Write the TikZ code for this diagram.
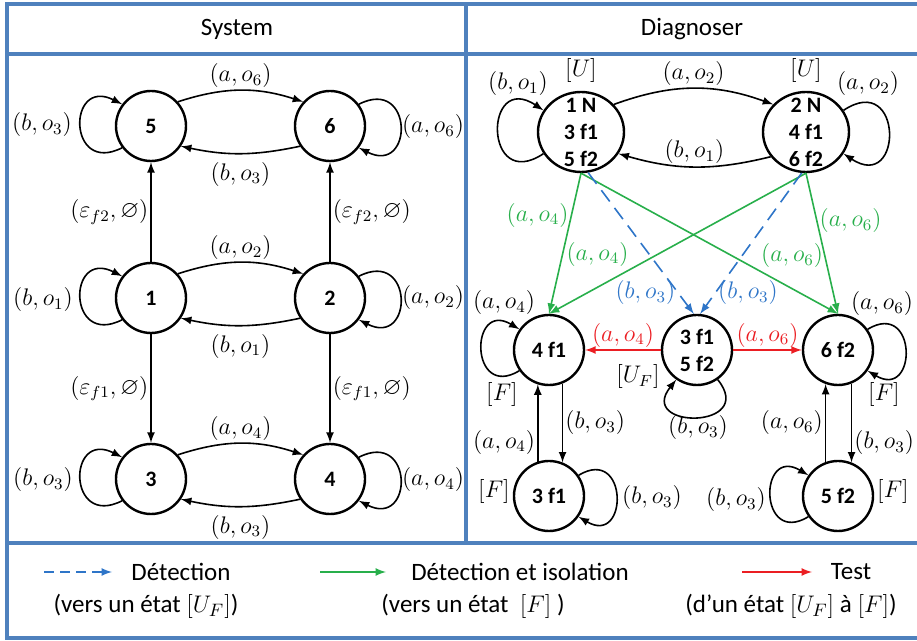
\documentclass[tikz,border=0pt]{standalone}
\usepackage{amsmath}
\usepackage{amssymb}
\usepackage[no-math]{fontspec}
\setmainfont{Carlito}
\usepackage{tikz}
\usetikzlibrary{shapes.geometric}
\usetikzlibrary{positioning}
\usetikzlibrary{arrows,calc}

\definecolor{framebl}{RGB}{79,129,189}
\definecolor{isolgreen}{RGB}{40,175,75}
\definecolor{detblue}{RGB}{46,117,200}
\definecolor{testred}{RGB}{235,30,35}

\begin{document}
\begin{tikzpicture}[x=0.5pt,y=-0.5pt,
    frame/.style={draw=framebl,line width=1.6pt},
    title/.style={font=\fontsize{12.5}{14}\selectfont},
    basic/.style={draw,circle,line width=1.2pt,minimum size=35pt,inner sep=0pt,
        align=center,font=\fontsize{11}{13.5}\selectfont\bfseries},
    big/.style={basic,ellipse,minimum width=43pt,minimum height=40pt,inner sep=-6pt},
    lbl/.style={font=\fontsize{12}{14}\selectfont,inner sep=1pt},
    trans/.style={line width=0.8pt,-latex},
    isol/.style={trans,draw=isolgreen},
    detect/.style={trans,draw=detblue,dash pattern=on 7pt off 4pt},
    testarr/.style={trans,draw=testred},
]
    \useasboundingbox (0,0) rectangle (917,641);
    % frame
    \draw[frame] (7,4) rectangle (930,638);
    \draw[frame] (7,54) -- (930,54);
    \draw[frame] (7,543) -- (930,543);
    \draw[frame] (466,4) -- (466,543);
    \node[title] (hsys) at (237,29) {System};
    \node[title] (hdiag) at (692,29) {Diagnoser};

    % System
    \node[basic] (s5) at (151,126) {5};
    \node[basic] (s6) at (330,126) {6};
    \node[basic] (s1) at (151,298) {1};
    \node[basic] (s2) at (330,298) {2};
    \node[basic] (s3) at (151,479) {3};
    \node[basic] (s4) at (330,479) {4};

    \draw[trans] (s5.42) to[bend left=18] node[lbl,above]{$(a,o_6)$} (s6.138);
    \draw[trans] (s6.214) to[bend left=12] node[lbl,below=3pt]{$(b,o_3)$} (s5.-34);
    \draw[trans] (s1.42) to[bend left=18] node[lbl,above]{$(a,o_2)$} (s2.138);
    \draw[trans] (s2.214) to[bend left=12] node[lbl,below=3pt]{$(b,o_1)$} (s1.-34);
    \draw[trans] (s3.42) to[bend left=18] node[lbl,above]{$(a,o_4)$} (s4.138);
    \draw[trans] (s4.214) to[bend left=12] node[lbl,below=3pt]{$(b,o_3)$} (s3.-34);

    \draw[trans] (s1) -- node[lbl,left]{$(\varepsilon_{f2},\varnothing)$} (s5);
    \draw[trans] (s2) -- node[lbl,right]{$(\varepsilon_{f2},\varnothing)$} (s6);
    \draw[trans] (s1) -- node[lbl,left]{$(\varepsilon_{f1},\varnothing)$} (s3);
    \draw[trans] (s2) -- node[lbl,right]{$(\varepsilon_{f1},\varnothing)$} (s4);

    \draw[trans] (s5.217) .. controls +(-55,28) and +(-55,-28) .. (s5.143);
    \draw[trans] (s1.217) .. controls +(-55,28) and +(-55,-28) .. (s1.143);
    \draw[trans] (s3.217) .. controls +(-55,28) and +(-55,-28) .. (s3.143);
    \draw[trans] (s6.37) .. controls +(55,-28) and +(55,28) .. (s6.-37);
    \draw[trans] (s2.37) .. controls +(55,-28) and +(55,28) .. (s2.-37);
    \draw[trans] (s4.37) .. controls +(55,-28) and +(55,28) .. (s4.-37);
    \node[lbl] (l5) at (42,125) {$(b,o_3)$};
    \node[lbl] (l1) at (43,300) {$(b,o_1)$};
    \node[lbl] (l3) at (43,480) {$(b,o_3)$};
    \node[lbl] (l6) at (433,127) {$(a,o_6)$};
    \node[lbl] (l2) at (433,298) {$(a,o_2)$};
    \node[lbl] (l4) at (433,480) {$(a,o_4)$};

    % Diagnoser
    \node[big] (A) at (581,132) {1 N\\3 f1\\5 f2};
    \node[big] (B) at (806,132) {2 N\\4 f1\\6 f2};
    \node[basic] (C) at (549,350) {4 f1};
    \node[basic] (D) at (697,350) {3 f1\\5 f2};
    \node[basic] (E) at (838,350) {6 f2};
    \node[basic] (G) at (549,496) {3 f1};
    \node[basic] (H) at (838,496) {5 f2};

    \node[lbl,above=3pt of A] (uA) {$[U]$};
    \node[lbl,above=3pt of B] (uB) {$[U]$};
    \node[lbl] (uD) at (638,377) {$[U_F]$};
    \node[lbl] (fC) at (502,395) {$[F]$};
    \node[lbl] (fE) at (884,395) {$[F]$};
    \node[lbl] (fG) at (494,492) {$[F]$};
    \node[lbl] (fH) at (893,492) {$[F]$};

    \draw[trans] (A.40) to[bend left=20] node[lbl,above]{$(a,o_2)$} (B.140);
    \draw[trans] (B.215) to[bend left=15] node[lbl,above]{$(b,o_1)$} (A.-30);
    \draw[trans] (A.210) .. controls +(-60,40) and +(-60,-40) .. (A.150);
    \draw[trans] (B.30) .. controls +(60,-40) and +(60,40) .. (B.-30);
    \node[lbl] (lA) at (518,84) {$(b,o_1)$};
    \node[lbl] (lB) at (868,84) {$(a,o_2)$};

    \draw[isol] (A.south) -- node[lbl,left,pos=0.3,text=isolgreen]{$(a,o_4)$} (C.north);
    \draw[isol] (A.south) -- node[lbl,above right,pos=0.69,text=isolgreen]{$(a,o_6)$} (E.north);
    \draw[isol] (B.south) -- node[lbl,above left,pos=0.68,text=isolgreen]{$(a,o_4)$} (C.north);
    \draw[isol] (B.south) -- node[lbl,right,pos=0.34,text=isolgreen]{$(a,o_6)$} (E.north);
    \draw[detect] (A.-80) -- node[lbl,left,pos=0.85,text=detblue]{$(b,o_3)$} (D.95);
    \draw[detect] (B.-96) -- node[lbl,right,pos=0.85,text=detblue]{$(b,o_3)$} (D.85);
    \draw[testarr] (D) -- node[lbl,above,text=testred]{$(a,o_4)$} (C);
    \draw[testarr] (D) -- node[lbl,above,text=testred]{$(a,o_6)$} (E);

    \draw[trans] (C.215) .. controls +(-50,30) and +(-50,-30) .. (C.145);
    \draw[trans] (E.35) .. controls +(50,-30) and +(50,30) .. (E.-35);
    \draw[trans] (D.-55) .. controls +(40,50) and +(-40,50) .. (D.-125);
    \draw[trans] (G.35) .. controls +(50,-30) and +(50,30) .. (G.-35);
    \draw[trans] (H.215) .. controls +(-50,30) and +(-50,-30) .. (H.145);
    \node[lbl] (lC) at (504,303) {$(a,o_4)$};
    \node[lbl] (lE) at (882,304) {$(a,o_6)$};
    \node[lbl] (lD) at (698,428) {$(b,o_3)$};
    \node[lbl] (lG) at (652,498) {$(b,o_3)$};
    \node[lbl] (lH) at (736,500) {$(b,o_3)$};

    \draw[trans] (G.108) -- node[lbl,left,pos=0.25]{$(a,o_4)$} (C.-108);
    \draw[trans] (C.-68) -- node[lbl,right]{$(b,o_3)$} (G.68);
    \draw[trans] (H.110) -- node[lbl,left]{$(a,o_6)$} (E.-110);
    \draw[trans] (E.-68) -- node[lbl,right,pos=0.75]{$(b,o_3)$} (H.68);

    % legend
    \coordinate (d0) at (44,572);
    \coordinate (d1) at (112,572);
    \coordinate (i0) at (320,572);
    \coordinate (i1) at (386,572);
    \coordinate (t0) at (742,572);
    \coordinate (t1) at (812,572);
    \draw[detect,dash pattern=on 5pt off 3pt] (d0) -- (d1);
    \draw[isol] (i0) -- (i1);
    \draw[testarr] (t0) -- (t1);
    \node[title] (ldet) at (181,572) {Détection};
    \node[title] (ldetb) at (146,606) {(vers un état $[U_F]$)};
    \node[title] (liso) at (520,572) {Détection et isolation};
    \node[title] (lisob) at (473,606) {(vers un état\ \ $[F]$ )};
    \node[title] (ltest) at (851,572) {Test};
    \node[title] (ltestb) at (791,606) {(d’un état $[U_F]$ à $[F]$)};
\end{tikzpicture}
\end{document}
